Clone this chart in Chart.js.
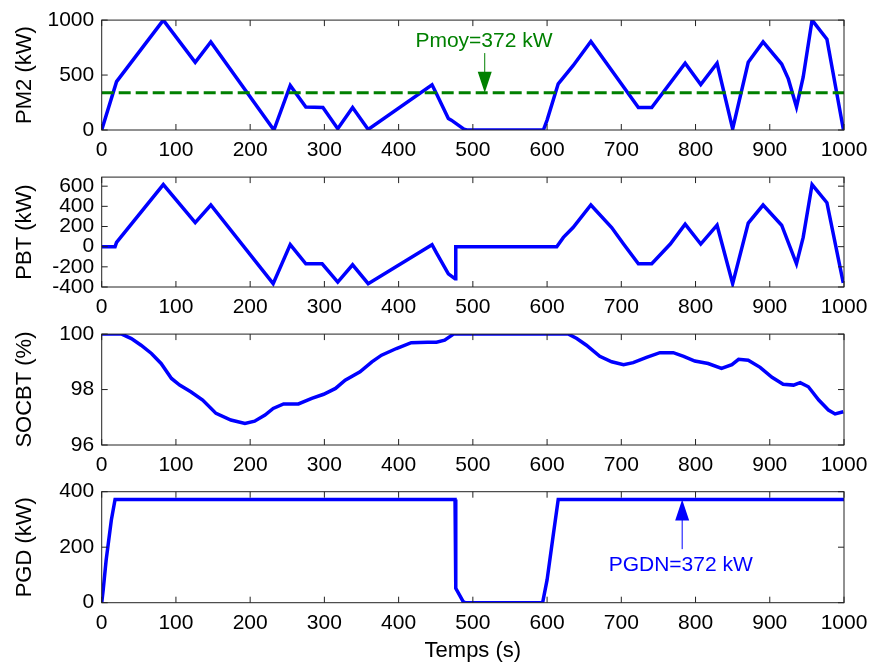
<!DOCTYPE html>
<html>
<head>
<meta charset="utf-8">
<script src="https://cdn.jsdelivr.net/npm/chart.js@4.4.1/dist/chart.umd.min.js"></script>
<style>
  html, body { margin: 0; padding: 0; background: #fff; }
  #wrap { position: relative; width: 872px; height: 664px; }
  canvas { position: absolute; left: 0; }
</style>
</head>
<body>
<div id="wrap">
  <canvas id="pm2"></canvas>
  <canvas id="pbt"></canvas>
  <canvas id="soc"></canvas>
  <canvas id="pgd"></canvas>
</div>
<script>
// --- data (time in s) ---
const xTicks = [0, 100, 200, 300, 400, 500, 600, 700, 800, 900, 1000];

const pm2T = [0, 20, 83, 126, 147, 232, 254, 275, 298, 318, 338, 359, 445, 451, 467, 471, 488, 492,
              595, 600, 615, 635, 659, 723, 741, 786, 807, 829, 850, 871, 891, 916, 925, 936, 945, 957, 977, 999, 1000];
const pm2V = [0, 440, 1000, 616, 802, 0, 405, 210, 204, 12, 204, 5, 411, 330, 105, 90, 8, 0,
              0, 90, 420, 585, 805, 204, 204, 607, 414, 607, 10, 616, 802, 600, 465, 210, 480, 1000, 826, 10, 0];
const pmoy = 340;          // dashed mean line
const pmoyLabel = 'Pmoy=372 kW';

const pbtT = [0, 18, 20, 83, 126, 147, 231, 254, 275, 297, 318, 338, 359, 445, 451, 467, 476, 477,
              613, 622, 635, 659, 687, 703, 723, 741, 766, 786, 807, 829, 850, 871, 891, 916, 936, 945, 957, 977, 999];
const pbtV = [0, 0, 43, 616, 239, 413, -367, 20, -170, -170, -351, -180, -367, 20, -62, -269, -318, 0,
              0, 92, 190, 413, 190, 26, -170, -170, 26, 223, 26, 213, -367, 233, 413, 213, -170, 92, 616, 436, -360];

const socT = [0, 27, 40, 53, 67, 80, 94, 105, 120, 136, 154, 174, 193, 206, 220, 231, 245, 265, 283, 299,
              315, 328, 348, 364, 377, 397, 417, 439, 451, 462, 474, 629, 640, 653, 671, 687, 703, 716, 734,
              752, 770, 784, 799, 817, 835, 849, 858, 871, 887, 903, 918, 932, 941, 952, 966, 979, 988, 999];
const socV = [100, 100, 99.84, 99.6, 99.3, 98.94, 98.4, 98.16, 97.92, 97.62, 97.14, 96.9, 96.78, 96.86, 97.08,
              97.32, 97.48, 97.48, 97.68, 97.83, 98.04, 98.34, 98.64, 99.0, 99.24, 99.48, 99.69, 99.71, 99.71,
              99.78, 100, 100, 99.84, 99.6, 99.2, 99.0, 98.9, 98.97, 99.16, 99.33, 99.33, 99.2, 99.03, 98.94,
              98.76, 98.9, 99.09, 99.06, 98.8, 98.44, 98.19, 98.16, 98.25, 98.1, 97.62, 97.26, 97.12, 97.2];

const pgdT = [0, 2, 6, 13, 18, 476, 477, 487, 490, 594, 600, 608, 615, 1000];
const pgdV = [0, 46, 154, 298, 372, 372, 52, 4, 0, 0, 82, 238, 372, 372];
const pgdnLabel = 'PGDN=372 kW';

const BLUE = '#0000ff';
const GREEN = '#008000';
const FONT = 'Liberation Sans, Arial, sans-serif';

const pts = (t, v) => t.map((x, i) => ({ x: x, y: v[i] }));

// box round the plot + inward tick marks, like matlab
const boxPlugin = {
  id: 'box',
  afterDatasetsDraw(chart) {
    const { ctx, chartArea: a, scales } = chart;
    const L = 6;
    ctx.save();
    ctx.strokeStyle = '#222';
    ctx.lineWidth = 1;
    ctx.beginPath();
    scales.x.ticks.forEach(t => {
      const px = scales.x.getPixelForValue(t.value);
      ctx.moveTo(px, a.bottom); ctx.lineTo(px, a.bottom - L);
      ctx.moveTo(px, a.top); ctx.lineTo(px, a.top + L);
    });
    scales.y.ticks.forEach(t => {
      const py = scales.y.getPixelForValue(t.value);
      ctx.moveTo(a.left, py); ctx.lineTo(a.left + L, py);
      ctx.moveTo(a.right, py); ctx.lineTo(a.right - L, py);
    });
    ctx.stroke();
    ctx.strokeRect(a.left, a.top, a.right - a.left, a.bottom - a.top);
    ctx.restore();
  }
};

// text + arrow annotation
const notePlugin = {
  id: 'note',
  afterDatasetsDraw(chart, args, o) {
    if (!o || !o.text) return;
    const { ctx, scales: { x, y } } = chart;
    ctx.save();
    ctx.fillStyle = o.color;
    ctx.strokeStyle = o.color;
    ctx.font = '21px ' + FONT;
    ctx.textAlign = 'center';
    ctx.textBaseline = 'middle';
    ctx.fillText(o.text, x.getPixelForValue(o.tx), y.getPixelForValue(o.ty));
    const ax = x.getPixelForValue(o.ax);
    const y0 = y.getPixelForValue(o.from);
    const y1 = y.getPixelForValue(o.to);
    const dir = y1 > y0 ? 1 : -1;
    ctx.lineWidth = 1;
    ctx.beginPath();
    ctx.moveTo(ax, y0);
    ctx.lineTo(ax, y1 - dir * 18);
    ctx.stroke();
    ctx.beginPath();
    ctx.moveTo(ax, y1);
    ctx.lineTo(ax - 7, y1 - dir * 21);
    ctx.lineTo(ax + 7, y1 - dir * 21);
    ctx.closePath();
    ctx.fill();
    ctx.restore();
  }
};

const plain = v => String(v);

function makePanel(id, p) {
  const cv = document.getElementById(id);
  cv.width = 872;
  cv.height = p.h;
  cv.style.top = p.top + 'px';
  const plotBottom = p.bottom - p.top;
  return new Chart(cv, {
    type: 'line',
    data: { datasets: p.datasets },
    options: {
      responsive: false,
      animation: false,
      events: [],
      layout: { padding: { top: p.plotTop - p.top, right: 28, bottom: 0, left: 0 } },
      plugins: { legend: { display: false }, tooltip: { enabled: false }, note: p.note || {} },
      elements: { point: { radius: 0 }, line: { tension: 0 } },
      scales: {
        x: {
          type: 'linear', min: 0, max: 1000,
          afterBuildTicks: s => { s.ticks = xTicks.map(v => ({ value: v })); },
          grid: { display: false, drawTicks: false },
          border: { display: false },
          ticks: { font: { family: FONT, size: 21 }, color: '#000', padding: 8, maxRotation: 0,
                   autoSkip: false, callback: plain },
          title: p.xTitle ? { display: true, text: p.xTitle, color: '#000',
                              font: { family: FONT, size: 22 }, padding: { top: 0, bottom: 0 } } : { display: false },
          afterFit: s => { s.height = p.h - plotBottom; s.paddingLeft = 0; s.paddingRight = 0; }
        },
        y: {
          min: p.ymin, max: p.ymax,
          afterBuildTicks: s => { s.ticks = p.yTicks.map(v => ({ value: v })); },
          grid: { display: false, drawTicks: false },
          border: { display: false },
          ticks: { font: { family: FONT, size: 21 }, color: '#000', padding: 7.5,
                   autoSkip: false, callback: plain },
          title: { display: true, text: p.yTitle, color: '#000',
                   font: { family: FONT, size: 22 }, padding: { top: 12, bottom: 0 } },
          afterFit: s => { s.width = 101.7; }
        }
      }
    },
    plugins: [boxPlugin, notePlugin]
  });
}

const blueLine = (t, v) => ({ data: pts(t, v), borderColor: BLUE, borderWidth: 3.5, fill: false });

makePanel('pm2', {
  top: 0, h: 157, plotTop: 19, bottom: 130,
  ymin: 0, ymax: 1000, yTicks: [0, 500, 1000], yTitle: 'PM2 (kW)',
  datasets: [
    { data: pts([0, 1000], [pmoy, pmoy]), borderColor: GREEN, borderWidth: 3, borderDash: [12, 5], fill: false },
    blueLine(pm2T, pm2V)
  ],
  note: { text: pmoyLabel, color: GREEN, tx: 515, ty: 811, ax: 516, from: 700, to: pmoy }
});

makePanel('pbt', {
  top: 157, h: 157, plotTop: 176, bottom: 287,
  ymin: -400, ymax: 690, yTicks: [-400, -200, 0, 200, 400, 600], yTitle: 'PBT (kW)',
  datasets: [blueLine(pbtT, pbtV)]
});

makePanel('soc', {
  top: 314, h: 157, plotTop: 334, bottom: 445,
  ymin: 96, ymax: 100, yTicks: [96, 98, 100], yTitle: 'SOCBT (%)',
  datasets: [blueLine(socT, socV)]
});

makePanel('pgd', {
  top: 471, h: 193, plotTop: 491.7, bottom: 602.7,
  ymin: 0, ymax: 400, yTicks: [0, 200, 400], yTitle: 'PGD (kW)', xTitle: 'Temps (s)',
  datasets: [blueLine(pgdT, pgdV)],
  note: { text: pgdnLabel, color: BLUE, tx: 780, ty: 136, ax: 782, from: 193, to: 372 }
});
</script>
</body>
</html>
